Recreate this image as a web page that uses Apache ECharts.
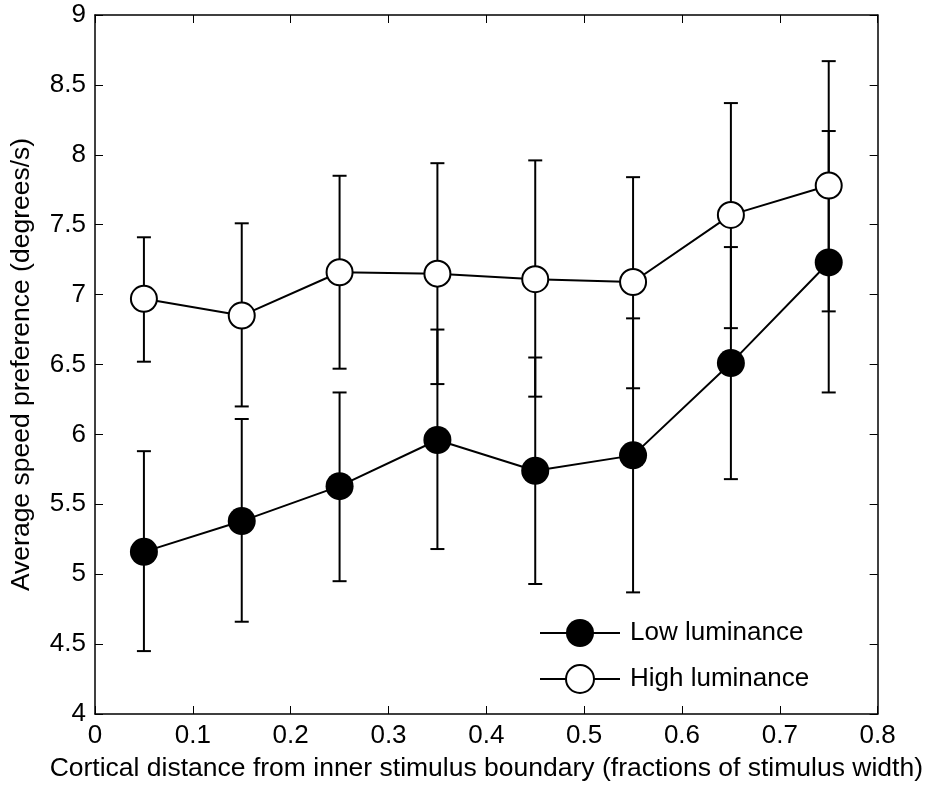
<!DOCTYPE html>
<html>
<head>
<meta charset="utf-8">
<script src="https://cdn.jsdelivr.net/npm/echarts@6/dist/echarts.min.js"></script>
<style>
html,body{margin:0;padding:0;background:#fff;}
#chart{width:926px;height:787px;}
</style>
</head>
<body>
<div id="chart"></div>
<script>
// ---- data ----
const xValues   = [0.05, 0.15, 0.25, 0.35, 0.45, 0.55, 0.65, 0.75];
const lowMean   = [5.16, 5.38, 5.63, 5.96, 5.74, 5.85, 6.51, 7.23];
const lowUpper  = [5.88, 6.11, 6.30, 6.75, 6.55, 6.83, 7.34, 8.17];
const lowLower  = [4.45, 4.66, 4.95, 5.18, 4.93, 4.87, 5.68, 6.30];
const highMean  = [6.97, 6.85, 7.16, 7.15, 7.11, 7.09, 7.57, 7.78];
const highUpper = [7.41, 7.51, 7.85, 7.94, 7.96, 7.84, 8.37, 8.67];
const highLower = [6.52, 6.20, 6.47, 6.36, 6.27, 6.33, 6.76, 6.88];
const seriesNames = ['Low luminance', 'High luminance'];
const xAxisTitle = 'Cortical distance from inner stimulus boundary (fractions of stimulus width)';
const yAxisTitle = 'Average speed preference (degrees/s)';

const FONT = '"Liberation Sans", Arial, Helvetica, sans-serif';
const chart = echarts.init(document.getElementById('chart'), null, {renderer: 'canvas'});

function pairs(xs, ys) { return xs.map((x, i) => [x, ys[i]]); }
function errData(xs, lo, hi) { return xs.map((x, i) => [x, lo[i], hi[i]]); }

function errorBarRender(params, api) {
  const x = api.value(0);
  const lo = api.coord([x, api.value(1)]);
  const hi = api.coord([x, api.value(2)]);
  const half = 7;
  const style = {stroke: '#000', lineWidth: 2};
  return {
    type: 'group',
    children: [
      {type: 'line', shape: {x1: lo[0], y1: lo[1], x2: hi[0], y2: hi[1]}, style: style},
      {type: 'line', shape: {x1: lo[0] - half, y1: lo[1], x2: lo[0] + half, y2: lo[1]}, style: style},
      {type: 'line', shape: {x1: hi[0] - half, y1: hi[1], x2: hi[0] + half, y2: hi[1]}, style: style}
    ]
  };
}

const axisLine = {show: true, onZero: false, lineStyle: {color: '#000', width: 1.5}};
const axisTick = {show: true, inside: true, length: 8, lineStyle: {color: '#000', width: 1}};

const option = {
  animation: false,
  backgroundColor: '#fff',
  textStyle: {fontFamily: FONT},
  grid: {left: 95, right: 47, top: 15, bottom: 73, containLabel: false},
  legend: {
    orient: 'vertical',
    left: 534,
    top: 614,
    itemWidth: 80,
    itemHeight: 35,
    itemGap: 17,
    data: seriesNames,
    textStyle: {fontFamily: FONT, fontSize: 26, color: '#000', padding: [0, 0, 0, 5]},
    selectedMode: false
  },
  xAxis: [
    {
      type: 'value', position: 'bottom', min: 0, max: 0.8, interval: 0.1,
      axisLine: axisLine, axisTick: axisTick, splitLine: {show: false},
      axisLabel: {color: '#000', fontSize: 26, fontFamily: FONT, margin: 9,
                  formatter: v => String(Math.round(v * 10) / 10)},
      name: xAxisTitle, nameLocation: 'middle', nameGap: 41,
      nameTextStyle: {color: '#000', fontSize: 26.5, fontFamily: FONT}
    },
    {
      type: 'value', position: 'top', min: 0, max: 0.8, interval: 0.1,
      axisLine: axisLine, axisTick: axisTick, splitLine: {show: false},
      axisLabel: {show: false}
    }
  ],
  yAxis: [
    {
      type: 'value', position: 'left', min: 4, max: 9, interval: 0.5,
      axisLine: axisLine, axisTick: axisTick, splitLine: {show: false},
      axisLabel: {color: '#000', fontSize: 26, fontFamily: FONT, margin: 9},
      name: yAxisTitle, nameLocation: 'middle', nameGap: 60,
      nameTextStyle: {color: '#000', fontSize: 26.5, fontFamily: FONT}
    },
    {
      type: 'value', position: 'right', min: 4, max: 9, interval: 0.5,
      axisLine: axisLine, axisTick: axisTick, splitLine: {show: false},
      axisLabel: {show: false}
    }
  ],
  series: [
    {
      type: 'custom', name: 'lowErr', xAxisIndex: 0, yAxisIndex: 0, z: 1,
      renderItem: errorBarRender, encode: {x: 0, y: [1, 2]},
      data: errData(xValues, lowLower, lowUpper)
    },
    {
      type: 'custom', name: 'highErr', xAxisIndex: 0, yAxisIndex: 0, z: 1,
      renderItem: errorBarRender, encode: {x: 0, y: [1, 2]},
      data: errData(xValues, highLower, highUpper)
    },
    {
      type: 'line', name: seriesNames[0], xAxisIndex: 0, yAxisIndex: 0, z: 3,
      data: pairs(xValues, lowMean),
      symbol: 'circle', symbolSize: 28, showSymbol: true,
      lineStyle: {color: '#000', width: 2},
      itemStyle: {color: '#000', borderColor: '#000', borderWidth: 0}
    },
    {
      type: 'line', name: seriesNames[1], xAxisIndex: 0, yAxisIndex: 0, z: 3,
      data: pairs(xValues, highMean),
      symbol: 'circle', symbolSize: 26, showSymbol: true,
      lineStyle: {color: '#000', width: 2},
      itemStyle: {color: '#fff', borderColor: '#000', borderWidth: 2}
    }
  ]
};
chart.setOption(option);
</script>
</body>
</html>
